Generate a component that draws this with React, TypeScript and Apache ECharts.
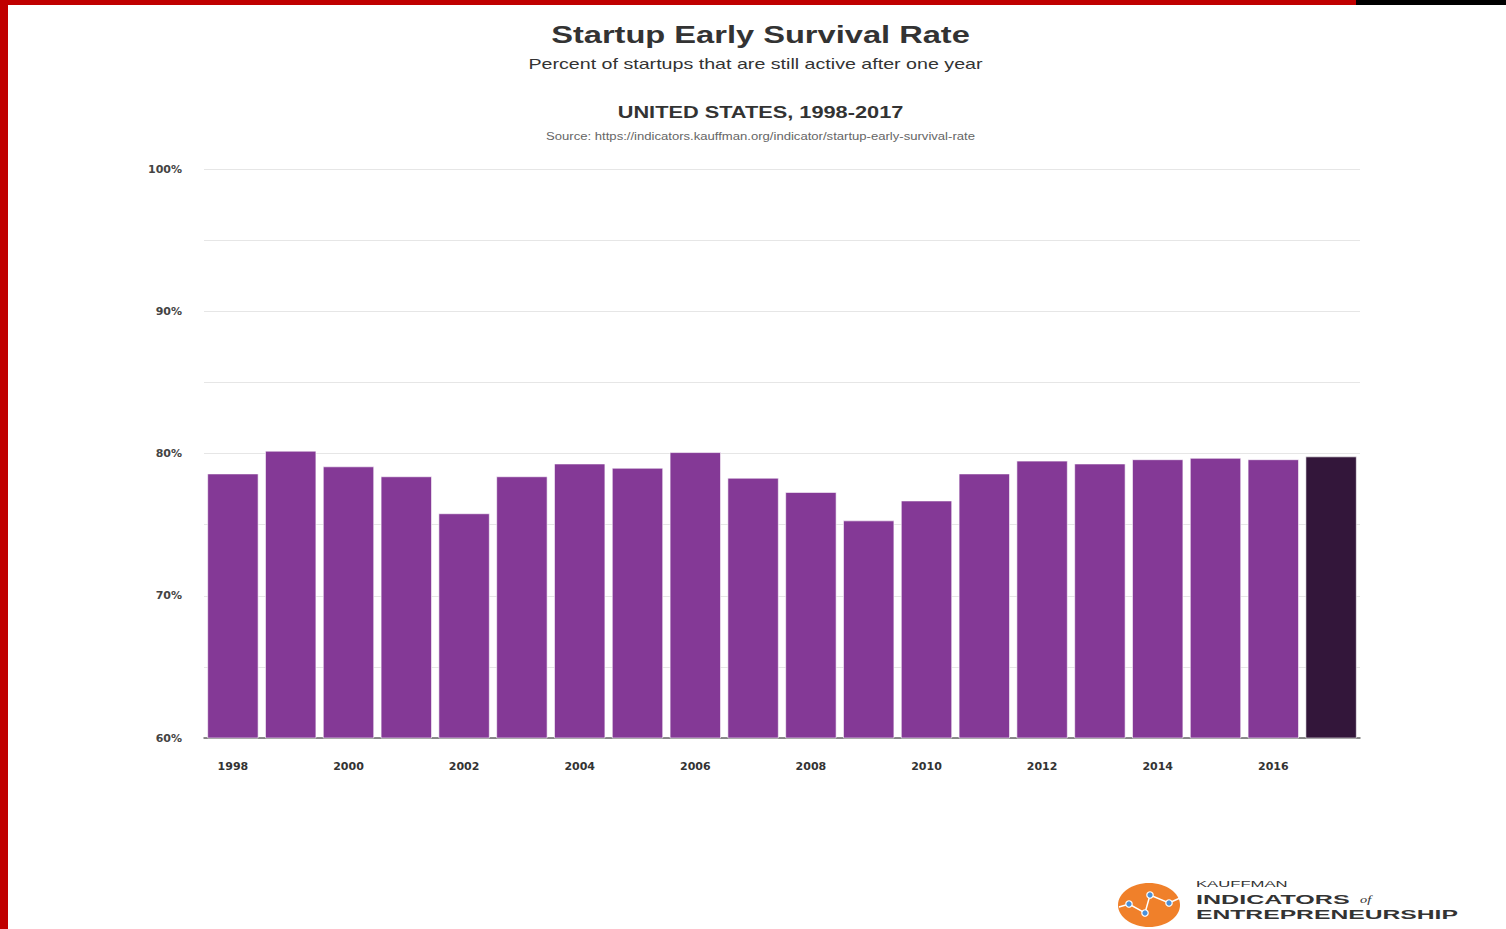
import React, { useEffect, useRef } from "react";
import * as echarts from "echarts";

const years = ["1998","1999","2000","2001","2002","2003","2004","2005","2006","2007","2008","2009","2010","2011","2012","2013","2014","2015","2016","2017"];
const survivalRate = [78.6, 80.2, 79.1, 78.4, 75.8, 78.4, 79.3, 79.0, 80.1, 78.3, 77.3, 75.3, 76.7, 78.6, 79.5, 79.3, 79.6, 79.7, 79.6, 79.8];
const yTickLabels = [60, 70, 80, 90, 100];

const PURPLE = "#843996";
const DARK = "#33163a";

export default function App() {
  const ref = useRef<HTMLDivElement>(null);
  useEffect(() => {
    if (!ref.current) return;
    const chart = echarts.init(ref.current, null, { renderer: "svg" });
    const txt = (text: string, x: number, y: number, size: number, weight: string, color: string, align: string, scaleX: number, family = "Liberation Sans", fontStyle = "normal") => ({
      type: "text",
      x,
      y,
      scaleX,
      style: { text, fontSize: size, fontWeight: weight, fontFamily: family, fontStyle, fill: color, align, verticalAlign: "middle" },
    });
    const dots = [[1129, 904], [1145, 913], [1150, 895], [1169, 903]];
    chart.setOption({
      animation: false,
      backgroundColor: "#ffffff",
      grid: { left: 204, right: 146, top: 169, bottom: 191, containLabel: false },
      xAxis: {
        type: "category",
        data: years,
        axisTick: { show: false },
        axisLine: { lineStyle: { color: "#666666", width: 1.5 } },
        axisLabel: { interval: 1, margin: 23, fontFamily: "DejaVu Sans", fontWeight: "bold", fontSize: 11, color: "#333333" },
      },
      yAxis: {
        type: "value",
        min: 60,
        max: 100,
        interval: 5,
        axisLine: { show: false },
        axisTick: { show: false },
        splitLine: { lineStyle: { color: "#e6e6e6", width: 1 } },
        axisLabel: {
          margin: 22,
          fontFamily: "DejaVu Sans",
          fontWeight: "bold",
          fontSize: 11,
          color: "#444444",
          verticalAlign: "middle",
          padding: [2, 0, 0, 0],
          formatter: (v: number) => (yTickLabels.includes(v) ? v + "%" : ""),
        },
      },
      series: [
        {
          type: "bar",
          data: survivalRate.map((v, i) => ({ value: v, itemStyle: { color: i === survivalRate.length - 1 ? DARK : PURPLE } })),
          barCategoryGap: "11%",
          itemStyle: { borderColor: "rgba(255,255,255,0.6)", borderWidth: 1 },
        },
      ],
      graphic: [
        { type: "rect", shape: { x: 0, y: 0, width: 8, height: 929 }, style: { fill: "#c00000" } },
        { type: "rect", shape: { x: 0, y: 0, width: 1356, height: 5 }, style: { fill: "#c00000" } },
        { type: "rect", shape: { x: 1356, y: 0, width: 150, height: 5 }, style: { fill: "#000000" } },
        txt("Startup Early Survival Rate", 760.5, 35, 24, "bold", "#333333", "center", 1.36),
        txt("Percent of startups that are still active after one year", 755.5, 64, 15, "normal", "#333333", "center", 1.31),
        txt("UNITED STATES, 1998-2017", 760.5, 112, 17, "bold", "#333333", "center", 1.28),
        txt("Source: https://indicators.kauffman.org/indicator/startup-early-survival-rate", 760.5, 136, 10, "normal", "#666666", "center", 1.31),
        { type: "ellipse", shape: { cx: 1149, cy: 905, rx: 31, ry: 22 }, style: { fill: "#f0802a" } },
        {
          type: "polyline",
          shape: { points: [[1119, 907], [1129, 904], [1145, 913], [1150, 895], [1169, 903], [1180, 898]] },
          style: { stroke: "#ffffff", lineWidth: 1.5, fill: "none" },
        },
        ...dots.map(([cx, cy]) => ({ type: "circle", shape: { cx, cy, r: 3.2 }, style: { fill: "#4a90d9", stroke: "#ffffff", lineWidth: 1.2 } })),
        txt("KAUFFMAN", 1196, 884, 9, "normal", "#333333", "left", 1.85),
        txt("INDICATORS", 1196, 899, 13, "bold", "#333333", "left", 1.93),
        txt("of", 1360, 900, 11, "normal", "#333333", "left", 1.3, "Liberation Serif", "italic"),
        txt("ENTREPRENEURSHIP", 1196, 914, 13, "bold", "#333333", "left", 1.9),
      ],
    });
    return () => chart.dispose();
  }, []);
  return <div ref={ref} style={{ position: "fixed", left: 0, top: 0, width: 1506, height: 929 }} />;
}
